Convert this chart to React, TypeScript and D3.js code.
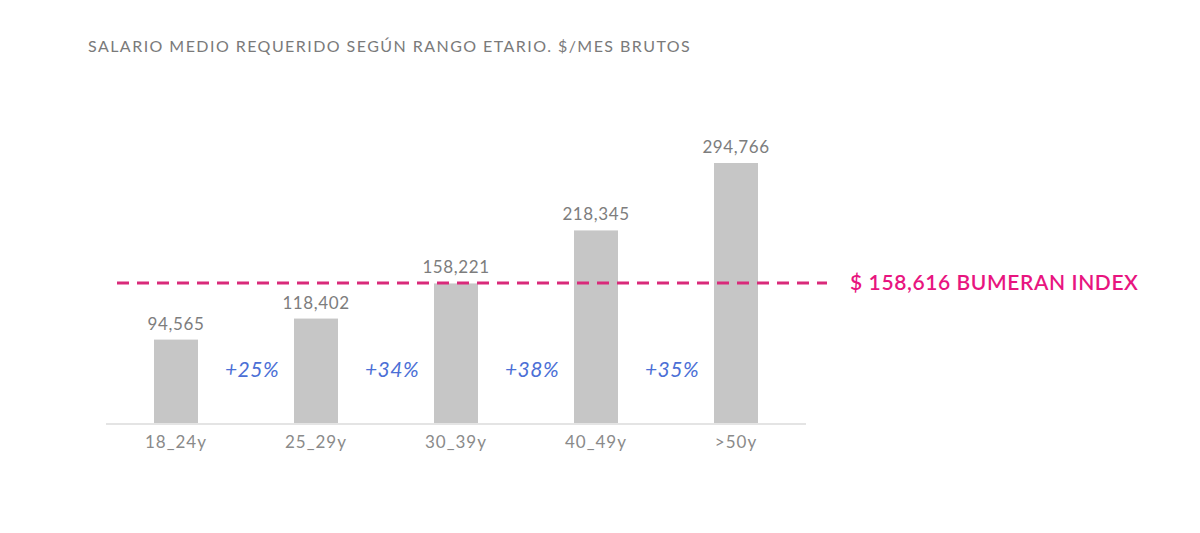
import * as d3 from 'd3'

const categories = ['18_24y', '25_29y', '30_39y', '40_49y', '>50y']
const salaries = [94565, 118402, 158221, 218345, 294766]
const growthLabels = ['+25%', '+34%', '+38%', '+35%']
const indexValue = 158616
const indexLabel = '$ 158,616 BUMERAN INDEX'
const title = 'SALARIO MEDIO REQUERIDO SEGÚN RANGO ETARIO. $/MES BRUTOS'

const width = 1200
const height = 533
const baseline = 423

const App = () => {
  const x = d3
    .scaleBand<string>()
    .domain(categories)
    .range([106, 806])
    .paddingInner(0.6857)
    .paddingOuter(0.6857 / 2)

  const y = d3.scaleLinear().domain([0, 300000]).range([baseline, 158.4])

  const fmt = d3.format(',')
  const font = 'Lato, "Open Sans", sans-serif'

  return (
    <svg
      width={width}
      height={height}
      style={{ position: 'absolute', left: 0, top: 0, background: '#fff' }}
      fontFamily={font}
    >
      <text x={88} y={52} fontSize={16} fill="#7a7a7a" letterSpacing={1.45}>
        {title}
      </text>

      {categories.map((c, i) => (
        <g key={c}>
          <rect
            x={x(c)}
            y={y(salaries[i])}
            width={x.bandwidth()}
            height={baseline - y(salaries[i])}
            fill="#c6c6c6"
          />
          <text
            x={x(c)! + x.bandwidth() / 2}
            y={y(salaries[i]) - 10}
            textAnchor="middle"
            fontSize={17}
            letterSpacing={0.6}
            fill="#7d7d7d"
          >
            {fmt(salaries[i])}
          </text>
          <text
            x={x(c)! + x.bandwidth() / 2}
            y={448}
            textAnchor="middle"
            fontSize={17}
            letterSpacing={1}
            fill="#8a8a8a"
          >
            {c}
          </text>
        </g>
      ))}

      <line x1={106} x2={806} y1={baseline + 1} y2={baseline + 1} stroke="#e4e4e4" strokeWidth={2} />

      {growthLabels.map((g, i) => {
        const cx = (x(categories[i])! + x(categories[i + 1])!) / 2 + x.bandwidth() / 2 + 6
        return (
          <text
            key={g}
            x={cx}
            y={377}
            textAnchor="middle"
            fontSize={21}
            letterSpacing={0.5}
            fontStyle="italic"
            fill="#4b6fd6"
          >
            {g}
          </text>
        )
      })}

      <line
        x1={117}
        x2={827}
        y1={y(indexValue)}
        y2={y(indexValue)}
        stroke="#d92a7a"
        strokeWidth={3}
        strokeDasharray="12 8"
      />
      <text
        x={850}
        y={y(indexValue) + 7}
        fontSize={21}
        fontWeight={600}
        letterSpacing={0.6}
        fill="#e8157f"
      >
        {indexLabel}
      </text>
    </svg>
  )
}

export default App
